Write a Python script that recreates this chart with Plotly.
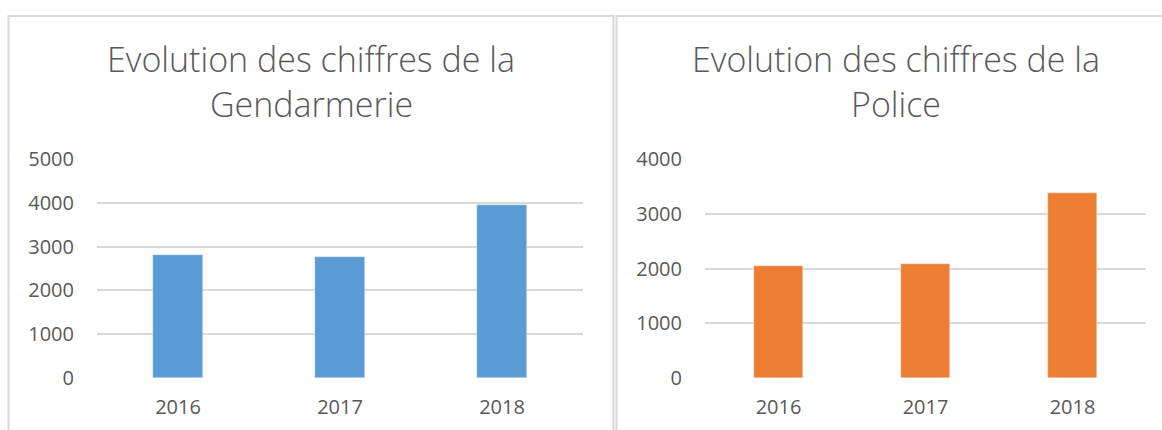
import plotly.graph_objects as go

years = ["2016", "2017", "2018"]
gendarmerie = [2800, 2760, 3950]
police = [2040, 2090, 3370]
gend_ticks = [0, 1000, 2000, 3000, 4000, 5000]
police_ticks = [0, 1000, 2000, 3000, 4000]

W, H = 1162, 430
def px(x): return x / W
def py(y): return 1 - y / H

TXT = "#595959"
GRID = "#D9D9D9"
FONT = "Open Sans"

fig = go.Figure()
fig.add_trace(go.Bar(x=years, y=gendarmerie, marker_color="#5B9BD5", width=0.31,
                     xaxis="x", yaxis="y", showlegend=False, hoverinfo="skip"))
fig.add_trace(go.Bar(x=years, y=police, marker_color="#ED7D31", width=0.333,
                     xaxis="x2", yaxis="y2", showlegend=False, hoverinfo="skip"))

ydom = [py(378), py(159)]
axis_common = dict(showline=False, zeroline=False, ticks="", automargin=False,
                   tickfont=dict(family=FONT, size=20, color=TXT))
fig.update_layout(
    width=W, height=H,
    margin=dict(l=0, r=0, t=0, b=0, autoexpand=False),
    paper_bgcolor="white", plot_bgcolor="white",
    xaxis=dict(domain=[px(97), px(583)], anchor="y", showgrid=False,
               ticklabelstandoff=15, **axis_common),
    yaxis=dict(domain=ydom, anchor="x", range=[0, 5000], tickvals=gend_ticks,
               showgrid=True, gridcolor=GRID, gridwidth=2,
               ticklabelstandoff=22, **axis_common),
    xaxis2=dict(domain=[px(705), px(1146)], anchor="y2", showgrid=False,
                ticklabelstandoff=15, **axis_common),
    yaxis2=dict(domain=ydom, anchor="x2", range=[0, 4000], tickvals=police_ticks,
                showgrid=True, gridcolor=GRID, gridwidth=2,
                ticklabelstandoff=22, **axis_common),
    bargap=0,
)

# Panel borders
for x0, x1 in [(8.5, 613.5), (616.5, 1175)]:
    fig.add_shape(type="rect", xref="paper", yref="paper",
                  x0=px(x0), x1=px(x1), y0=py(445), y1=py(16),
                  line=dict(color="#D9D9D9", width=2), fillcolor="rgba(0,0,0,0)",
                  layer="below")

titles = [
    (311, 59, "Evolution des chiffres de la"),
    (311, 104, "Gendarmerie"),
    (896, 59, "Evolution des chiffres de la"),
    (896, 104, "Police"),
]
for x, y, t in titles:
    fig.add_annotation(text=t, x=px(x), y=py(y), xref="paper", yref="paper",
                       xanchor="center", yanchor="middle", showarrow=False,
                       font=dict(family=FONT, size=34, color=TXT, weight=300))

fig.write_html("out.html", config={"displayModeBar": False},
               post_script="document.body.style.margin='0';document.body.style.overflow='hidden';")
